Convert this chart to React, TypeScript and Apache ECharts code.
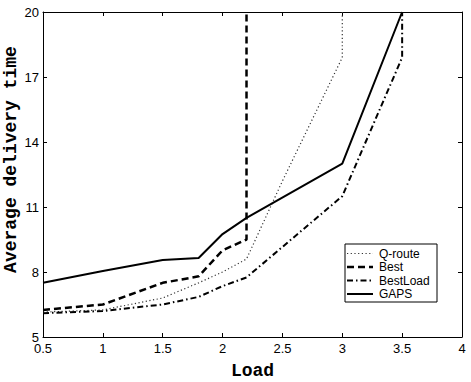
import React, { useEffect, useRef } from "react";
import * as echarts from "echarts";

// Data
const qrouteLoad = [0.5, 1, 1.5, 1.8, 2, 2.2, 2.5, 3, 3];
const qrouteTime = [6.15, 6.25, 6.8, 7.5, 8.0, 8.6, 12.2, 17.9, 20];

const bestLoad = [0.5, 1, 1.5, 1.8, 2, 2.2, 2.2];
const bestTime = [6.25, 6.5, 7.5, 7.8, 9.0, 9.5, 20];

const bestLoadLoad = [0.5, 1, 1.5, 1.8, 2, 2.2, 3, 3.5, 3.5];
const bestLoadTime = [6.1, 6.2, 6.5, 6.85, 7.35, 7.75, 11.5, 17.9, 20];

const gapsLoad = [0.5, 1, 1.5, 1.8, 2, 2.2, 3, 3.5];
const gapsTime = [7.5, 8.05, 8.55, 8.65, 9.75, 10.5, 13.0, 20];

const xTicks = [0.5, 1, 1.5, 2, 2.5, 3, 3.5, 4];
const yTicks = [5, 8, 11, 14, 17, 20];

const seriesNames = ["Q-route", "Best", "BestLoad", "GAPS"];
const xTitle = "Load";
const yTitle = "Average delivery time";

const zip = (xs: number[], ys: number[]) => xs.map((x, i) => [x, ys[i]]);

const styles = [
  { color: "#333", width: 1.2, dash: [1.2, 2.5] as number[] | null },
  { color: "#000", width: 2.5, dash: [7, 4] as number[] | null },
  { color: "#000", width: 2, dash: [6, 3, 1.5, 3] as number[] | null },
  { color: "#000", width: 2, dash: null as number[] | null },
];

export default function App() {
  const ref = useRef<HTMLDivElement>(null);
  useEffect(() => {
    if (!ref.current) return;
    const chart = echarts.init(ref.current, null, { renderer: "svg" });
    const tickFont = { fontFamily: "Liberation Sans", fontSize: 13, color: "#000" };
    const axisLine = { show: true, lineStyle: { color: "#000", width: 1 } };
    const tick = { show: true, inside: true, length: 4, lineStyle: { color: "#000" } };

    const legendX = 345, legendY = 244, legendW = 92, legendH = 58, rowH = 13.5;
    const legendChildren: any[] = [
      {
        type: "rect",
        shape: { x: 0, y: 0, width: legendW, height: legendH },
        style: { fill: "#fff", stroke: "#000", lineWidth: 1 },
      },
    ];
    seriesNames.forEach((name, i) => {
      const cy = 9.5 + i * rowH;
      const s = styles[i];
      legendChildren.push({
        type: "line",
        shape: { x1: 2, y1: cy, x2: 28, y2: cy },
        style: { stroke: s.color, lineWidth: s.width, lineDash: s.dash || undefined },
      });
      legendChildren.push({
        type: "text",
        x: 34,
        y: cy,
        style: {
          text: name,
          fontFamily: "Liberation Sans",
          fontSize: 12,
          fill: "#000",
          verticalAlign: "middle",
          align: "left",
        },
      });
    });

    chart.setOption({
      animation: false,
      backgroundColor: "#fff",
      grid: { left: 43, right: 9, top: 12, bottom: 45, containLabel: false, outerBoundsMode: "none" },
      graphic: [
        { type: "group", x: legendX, y: legendY, z: 100, children: legendChildren },
        {
          type: "text",
          x: 11,
          y: 159.5,
          rotation: Math.PI / 2,
          style: {
            text: yTitle,
            fontFamily: "Liberation Mono",
            fontWeight: "bold",
            fontSize: 18,
            fill: "#000",
            align: "center",
            verticalAlign: "middle",
          },
        },
      ],
      xAxis: [
        {
          type: "value",
          min: 0.5,
          max: 4,
          interval: 0.5,
          name: xTitle,
          nameLocation: "middle",
          nameGap: 25,
          nameTextStyle: { fontFamily: "Liberation Mono", fontWeight: "bold", fontSize: 18, color: "#000" },
          axisLine,
          axisTick: tick,
          axisLabel: { ...tickFont, margin: 5, customValues: xTicks },
          splitLine: { show: false },
        },
        {
          type: "value",
          position: "top",
          min: 0.5,
          max: 4,
          interval: 0.5,
          axisLine,
          axisTick: tick,
          axisLabel: { show: false },
          splitLine: { show: false },
        },
      ],
      yAxis: [
        {
          type: "value",
          min: 5,
          max: 20,
          axisLine,
          axisTick: { ...tick, customValues: yTicks },
          axisLabel: { ...tickFont, margin: 4, customValues: yTicks },
          splitLine: { show: false },
        },
        {
          type: "value",
          position: "right",
          min: 5,
          max: 20,
          axisLine,
          axisTick: { ...tick, customValues: yTicks },
          axisLabel: { show: false, customValues: yTicks },
          splitLine: { show: false },
        },
      ],
      series: [
        { xs: qrouteLoad, ys: qrouteTime },
        { xs: bestLoad, ys: bestTime },
        { xs: bestLoadLoad, ys: bestLoadTime },
        { xs: gapsLoad, ys: gapsTime },
      ].map((d, i) => ({
        name: seriesNames[i],
        type: "line",
        data: zip(d.xs, d.ys),
        symbol: "none",
        color: styles[i].color,
        lineStyle: {
          color: styles[i].color,
          width: styles[i].width,
          type: styles[i].dash || "solid",
        },
      })),
    });
    return () => chart.dispose();
  }, []);
  return <div ref={ref} style={{ width: 471, height: 382, position: "absolute", left: 0, top: 0 }} />;
}
